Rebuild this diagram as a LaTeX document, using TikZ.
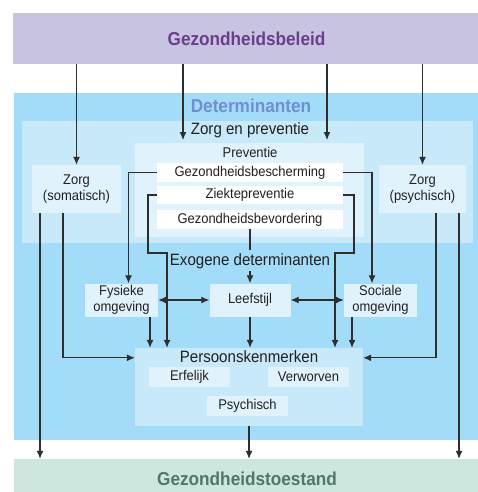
\documentclass[tikz,border=0pt]{standalone}
\usepackage{fontspec}
\setmainfont[FakeStretch=0.92]{Liberation Sans}
\usetikzlibrary{arrows.meta}

\definecolor{beleidbg}{HTML}{C7C3E1}
\definecolor{beleidtxt}{HTML}{6B3E8C}
\definecolor{detbg}{HTML}{A3DCF8}
\definecolor{dettxt}{HTML}{6F8ED4}
\definecolor{midbg}{HTML}{C7E9F9}
\definecolor{palebg}{HTML}{E0F3FC}
\definecolor{toestbg}{HTML}{CDE7DE}
\definecolor{toesttxt}{HTML}{4E776D}
\definecolor{txtgray}{HTML}{231F20}
\definecolor{linegray}{HTML}{2E2E2E}

\begin{document}
\begin{tikzpicture}[x=1pt,y=-1pt]
	\tikzstyle{every node}=[font=\fontsize{14.1}{15.5}\selectfont, text=txtgray, inner sep=0pt]
	\tikzstyle{kop}=[font=\fontsize{18.7}{20}\selectfont\bfseries]
	\tikzstyle{groot}=[font=\fontsize{16.4}{18}\selectfont]
	\tikzstyle{vak}=[fill=palebg, align=center, minimum width=73pt, minimum height=33pt]
	\tikzstyle{wit}=[fill=white, minimum width=186pt, minimum height=19pt]
	\tikzstyle{kenmerk}=[fill=palebg, minimum width=81pt, minimum height=20pt]
	\tikzstyle{lijn}=[line width=1.1pt, draw=linegray]
	\tikzstyle{pijl}=[lijn, -{Latex[length=8pt,width=7pt]}]
	\tikzstyle{dubbel}=[lijn, {Latex[length=8pt,width=7pt]}-{Latex[length=8pt,width=7pt]}]
	
	\useasboundingbox (0,0) rectangle (477,492);
	
	% achtergronden
	\fill [detbg] (14,93) rectangle (480,440);
	\node [kop, text=dettxt, anchor=base] at (251,113) {Determinanten};
	\fill [midbg] (22,121) rectangle (473,243);
	\node [groot, anchor=base] at (250,135) {Zorg en preventie};
	\fill [palebg] (135,143) rectangle (364,237);
	\node [anchor=base] at (250,157) {Preventie};
	
	% balken
	\node [kop, text=beleidtxt, fill=beleidbg, minimum width=467pt, minimum height=51pt] (beleid) at (246.5,38.5) {Gezondheidsbeleid};
	\node [kop, text=toesttxt, fill=toestbg, minimum width=466pt, minimum height=40pt] (toestand) at (247,479) {Gezondheidstoestand};
	
	% zorg
	\node [vak, minimum width=89pt, minimum height=48pt] (somat) at (76.5,189) {Zorg\\(somatisch)};
	\node [vak, minimum width=87pt, minimum height=48pt] (psych) at (422.5,189) {Zorg\\(psychisch)};
	
	% preventie
	\node [wit] (besch) at (250,172.5) {Gezondheidsbescherming};
	\node [wit, minimum height=18pt] (ziekte) at (250,195) {Ziektepreventie};
	\node [wit] (bevord) at (250,219.5) {Gezondheidsbevordering};
	
	% exogene determinanten
	\node [groot, inner sep=2.5pt, anchor=base] (exo) at (250,265) {Exogene determinanten};
	\node [vak] (fysiek) at (121.5,300) {Fysieke\\omgeving};
	\node [vak, minimum width=81pt] (leef) at (250,300) {Leefstijl};
	\node [vak] (sociaal) at (380.5,300) {Sociale\\omgeving};
	
	% persoonskenmerken
	\node [fill=midbg, minimum width=228pt, minimum height=78pt] (persoon) at (249,387) {};
	\node [groot, anchor=base] at (249,362) {Persoonskenmerken};
	\node [kenmerk] (erf) at (189.5,377) {Erfelijk};
	\node [kenmerk] (verw) at (308.5,377) {Verworven};
	\node [kenmerk] (psy) at (247.5,406) {Psychisch};
	
	% hulppunten
	\coordinate (zpl) at (183,140);
	\coordinate (zpr) at (327,140);
	\coordinate (zl) at (148,253);
	\coordinate (zr) at (354,253);
	\coordinate (fb) at ([xshift=28.5pt]fysiek.south);
	\coordinate (sb) at ([xshift=-28.5pt]sociaal.south);
	\coordinate (so1) at ([xshift=-36.5pt]somat.south);
	\coordinate (so2) at ([xshift=-13.5pt]somat.south);
	\coordinate (ps1) at ([xshift=13.5pt]psych.south);
	\coordinate (ps2) at ([xshift=36.5pt]psych.south);
	
	% beleid
	\draw [pijl] (beleid.south -| somat.north) -- (somat.north);
	\draw [pijl] (beleid.south -| zpl) -- (zpl);
	\draw [pijl] (beleid.south -| zpr) -- (zpr);
	\draw [pijl] (beleid.south -| psych.north) -- (psych.north);
	
	% preventie naar exogene determinanten
	\draw [pijl] (besch.west) -| ([xshift=7pt]fysiek.north);
	\draw [pijl] (besch.east) -| ([xshift=-8.5pt]sociaal.north);
	\draw [pijl] (ziekte.west) -| (zl) -| ([xshift=-82pt]persoon.north);
	\draw [pijl] (ziekte.east) -| (zr) -| ([xshift=86pt]persoon.north);
	\draw [lijn] (bevord.south) -- (exo.north);
	\draw [pijl] (exo.south) -- (leef.north);
	
	\draw [dubbel] (fysiek.east) -- (leef.west);
	\draw [dubbel] (leef.east) -- (sociaal.west);
	
	\draw [pijl] (fb) -- (fb |- persoon.north);
	\draw [pijl] (leef.south) -- (leef.south |- persoon.north);
	\draw [pijl] (sb) -- (sb |- persoon.north);
	
	% zorg
	\draw [pijl] (so1) -- (so1 |- toestand.north);
	\draw [pijl] (so2) |- ([yshift=-10pt]persoon.north west);
	\draw [pijl] (ps1) |- ([yshift=-10pt]persoon.north east);
	\draw [pijl] (ps2) -- (ps2 |- toestand.north);
	\draw [pijl] (persoon.south) -- (persoon.south |- toestand.north);
	
\end{tikzpicture}
\end{document}
